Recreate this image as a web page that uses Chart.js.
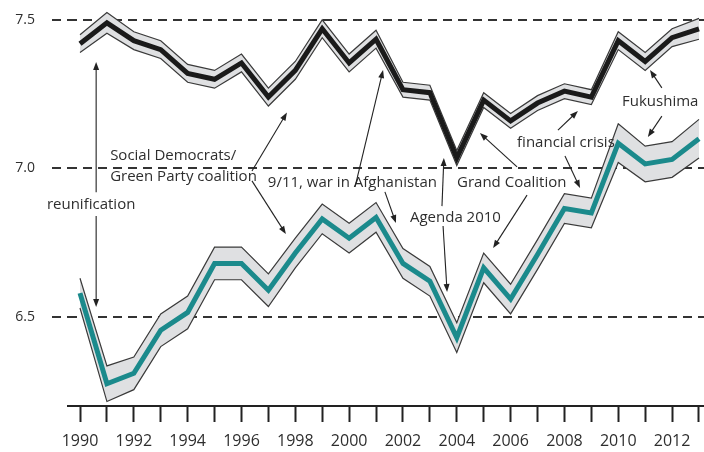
<!DOCTYPE html>
<html>
<head>
<meta charset="utf-8">
<script src="https://cdn.jsdelivr.net/npm/chart.js@4/dist/chart.umd.min.js"></script>
<style>
  html, body { margin: 0; padding: 0; background: #fff; }
  #wrap { width: 704px; height: 452px; }
</style>
</head>
<body>
<div id="wrap"><canvas id="chart"></canvas></div>
<script>
(function () {
  'use strict';

  // data
  const years = [1990, 1991, 1992, 1993, 1994, 1995, 1996, 1997, 1998, 1999, 2000, 2001,
                 2002, 2003, 2004, 2005, 2006, 2007, 2008, 2009, 2010, 2011, 2012, 2013];
  const yearLabels = [1990, 1992, 1994, 1996, 1998, 2000, 2002, 2004, 2006, 2008, 2010, 2012];
  const yTicks = [6.5, 7.0, 7.5];

  // black series (upper) and its band half-width
  const upperSeries = [7.42, 7.49, 7.43, 7.40, 7.32, 7.30, 7.355, 7.24, 7.33, 7.47, 7.355, 7.435,
                       7.265, 7.255, 7.035, 7.23, 7.16, 7.22, 7.26, 7.24, 7.43, 7.36, 7.44, 7.47];
  const upperBand = [0.03, 0.035, 0.03, 0.03, 0.03, 0.03, 0.03, 0.03, 0.03, 0.03, 0.03, 0.03,
                     0.025, 0.025, 0.025, 0.025, 0.025, 0.025, 0.025, 0.025, 0.03, 0.03, 0.03, 0.035];

  // teal series (lower) and its band half-width
  const lowerSeries = [6.58, 6.275, 6.31, 6.455, 6.515, 6.68, 6.68, 6.59, 6.715, 6.83, 6.765, 6.835,
                       6.68, 6.62, 6.43, 6.665, 6.56, 6.71, 6.865, 6.85, 7.085, 7.015, 7.03, 7.10];
  const lowerBand = [0.05, 0.06, 0.055, 0.055, 0.055, 0.055, 0.055, 0.055, 0.05, 0.05, 0.05, 0.05,
                     0.05, 0.05, 0.05, 0.05, 0.05, 0.05, 0.05, 0.05, 0.065, 0.06, 0.06, 0.065];

  // annotations (data coordinates)
  const notes = [
    { text: 'Social Democrats/', x: 1991.12, y: 7.044 },
    { text: 'Green Party coalition', x: 1991.12, y: 6.971 },
    { text: 'reunification', x: 1988.77, y: 6.877 },
    { text: '9/11, war in Afghanistan', x: 1996.98, y: 6.951 },
    { text: 'Agenda 2010', x: 2002.26, y: 6.833 },
    { text: 'Grand Coalition', x: 2004.01, y: 6.951 },
    { text: 'financial crisis', x: 2006.24, y: 7.086 },
    { text: 'Fukushima', x: 2010.14, y: 7.224 }
  ];
  const arrows = [
    [1990.6, 6.92, 1990.6, 7.358],
    [1990.6, 6.84, 1990.6, 6.533],
    [1996.39, 6.991, 1997.69, 7.188],
    [1996.39, 6.958, 1997.65, 6.779],
    [2000.22, 6.938, 2001.26, 7.331],
    [2001.33, 6.921, 2001.74, 6.816],
    [2003.45, 6.873, 2003.52, 7.035],
    [2003.49, 6.806, 2003.64, 6.584],
    [2006.24, 7.005, 2004.86, 7.119],
    [2006.61, 6.910, 2005.35, 6.732],
    [2007.76, 7.129, 2008.50, 7.193],
    [2008.02, 7.042, 2008.58, 6.934],
    [2011.62, 7.271, 2011.18, 7.331],
    [2011.62, 7.176, 2011.10, 7.106]
  ];

  const FONT = '"Open Sans", "Liberation Sans", sans-serif';
  const TEXT = '#2e2e2e';

  function pts(arr) {
    return years.map(function (yr, i) { return { x: yr, y: arr[i] }; });
  }
  function shift(arr, band, sign) {
    return arr.map(function (v, i) { return v + sign * band[i]; });
  }

  const lineBase = { pointRadius: 0, tension: 0, fill: false };
  const edge = { borderColor: '#3a3a3a', borderWidth: 1.2 };

  const annotate = {
    id: 'annotate',
    afterDatasetsDraw: function (chart) {
      const ctx = chart.ctx;
      const xs = chart.scales.x, ys = chart.scales.y;
      ctx.save();
      ctx.font = '15px ' + FONT;
      ctx.fillStyle = TEXT;
      ctx.textAlign = 'left';
      ctx.textBaseline = 'middle';
      notes.forEach(function (n) {
        ctx.fillText(n.text, xs.getPixelForValue(n.x), ys.getPixelForValue(n.y));
      });
      ctx.strokeStyle = '#222';
      ctx.fillStyle = '#222';
      ctx.lineWidth = 1.1;
      arrows.forEach(function (a) {
        const x1 = xs.getPixelForValue(a[0]), y1 = ys.getPixelForValue(a[1]);
        const x2 = xs.getPixelForValue(a[2]), y2 = ys.getPixelForValue(a[3]);
        const ang = Math.atan2(y2 - y1, x2 - x1);
        const hl = 8, hw = 3;
        ctx.beginPath();
        ctx.moveTo(x1, y1);
        ctx.lineTo(x2 - Math.cos(ang) * hl * 0.8, y2 - Math.sin(ang) * hl * 0.8);
        ctx.stroke();
        ctx.beginPath();
        ctx.moveTo(x2, y2);
        ctx.lineTo(x2 - Math.cos(ang) * hl - Math.sin(ang) * hw, y2 - Math.sin(ang) * hl + Math.cos(ang) * hw);
        ctx.lineTo(x2 - Math.cos(ang) * hl + Math.sin(ang) * hw, y2 - Math.sin(ang) * hl - Math.cos(ang) * hw);
        ctx.closePath();
        ctx.fill();
      });
      ctx.restore();
    }
  };

  new Chart(document.getElementById('chart'), {
    type: 'line',
    data: {
      datasets: [
        Object.assign({ data: pts(upperSeries), borderColor: '#1a1a1a', borderWidth: 5 }, lineBase),
        Object.assign({ data: pts(lowerSeries), borderColor: '#1b8a8c', borderWidth: 5 }, lineBase),
        Object.assign({}, lineBase, edge, { data: pts(shift(upperSeries, upperBand, 1)), fill: '+1', backgroundColor: '#dfe0e2' }),
        Object.assign({}, lineBase, edge, { data: pts(shift(upperSeries, upperBand, -1)) }),
        Object.assign({}, lineBase, edge, { data: pts(shift(lowerSeries, lowerBand, 1)), fill: '+1', backgroundColor: '#dfe0e2' }),
        Object.assign({}, lineBase, edge, { data: pts(shift(lowerSeries, lowerBand, -1)) })
      ]
    },
    options: {
      responsive: true,
      maintainAspectRatio: false,
      animation: false,
      layout: { padding: 0 },
      plugins: {
        legend: { display: false },
        tooltip: { enabled: false },
        filler: { drawTime: 'beforeDatasetsDraw' }
      },
      scales: {
        x: {
          type: 'linear',
          min: 1989.554,
          max: 2013.186,
          afterBuildTicks: function (s) { s.ticks = years.map(function (v) { return { value: v }; }); },
          afterFit: function (s) { s.height = 46; s.paddingLeft = 0; s.paddingRight = 0; },
          ticks: {
            autoSkip: false,
            maxRotation: 0,
            padding: 10,
            color: TEXT,
            font: { family: FONT, size: 16 },
            callback: function (v) { return yearLabels.indexOf(v) >= 0 ? String(v) : ''; }
          },
          grid: { drawOnChartArea: false, drawTicks: true, tickLength: 16, tickColor: '#222', tickWidth: 2 },
          border: { display: true, color: '#222', width: 2 }
        },
        y: {
          type: 'linear',
          min: 6.2,
          max: 7.567,
          afterBuildTicks: function (s) { s.ticks = yTicks.map(function (v) { return { value: v }; }); },
          afterFit: function (s) { s.width = 68; s.paddingTop = 0; s.paddingBottom = 0; },
          ticks: {
            padding: 17,
            color: TEXT,
            font: { family: FONT, size: 14 },
            callback: function (v) { return v.toFixed(1); }
          },
          grid: { color: '#333', lineWidth: 2, tickLength: 16, tickColor: '#333', tickWidth: 2, tickBorderDash: [9, 6] },
          border: { display: false, dash: [9, 6] }
        }
      }
    },
    plugins: [annotate]
  });
})();
</script>
</body>
</html>
